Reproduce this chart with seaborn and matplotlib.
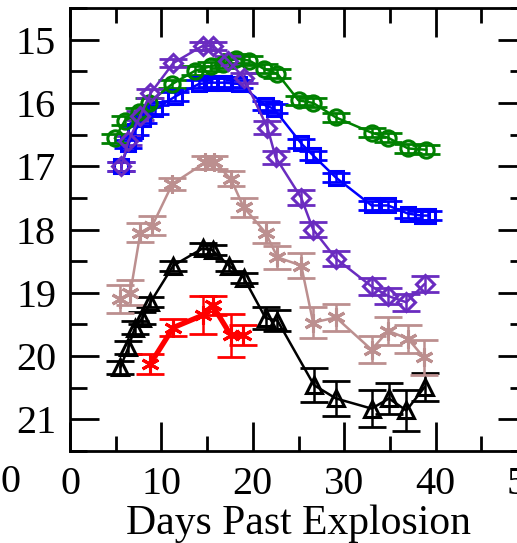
import numpy as np
import pandas as pd
import matplotlib
matplotlib.use("Agg")
import matplotlib.pyplot as plt
import seaborn as sns
from matplotlib.ticker import MultipleLocator

# ---------------- data ----------------
green_x = [4.9, 6.0, 7.6, 8.6, 11.2, 13.7, 15.4, 16.7, 18.2, 19.6, 21.2, 22.7, 25.0, 26.6, 29.1, 33.0, 34.8, 37.0, 39.0]
green_y = [16.56, 16.28, 16.15, 16.0, 15.7, 15.49, 15.42, 15.38, 15.3, 15.33, 15.46, 15.54, 15.96, 16.0, 16.23, 16.47, 16.55, 16.72, 16.74]
green_e = [0.07] * 19

blue_x = [5.6, 6.4, 7.1, 8.0, 9.3, 11.5, 14.1, 15.4, 16.8, 18.5, 21.4, 22.3, 25.3, 26.6, 29.1, 33.0, 34.8, 37.0, 38.5, 39.2]
blue_y = [17.0, 16.65, 16.44, 16.25, 16.1, 15.9, 15.7, 15.68, 15.68, 15.7, 16.04, 16.09, 16.64, 16.83, 17.18, 17.62, 17.62, 17.75, 17.78, 17.78]
blue_e = [0.07] * 20

purple_x = [5.6, 6.4, 7.7, 8.8, 11.3, 14.5, 15.7, 17.3, 19.0, 21.6, 22.5, 25.3, 26.6, 29.1, 33.0, 34.8, 36.8, 38.8]
purple_y = [17.0, 16.6, 16.2, 15.85, 15.37, 15.1, 15.1, 15.33, 15.6, 16.39, 16.86, 17.5, 18.0, 18.46, 18.9, 19.05, 19.15, 18.86]
purple_e = [0.07, 0.07, 0.07, 0.07, 0.07, 0.07, 0.07, 0.07, 0.08, 0.1, 0.1, 0.12, 0.12, 0.12, 0.13, 0.13, 0.13, 0.12]

tan_x = [5.5, 6.6, 7.7, 9.0, 11.2, 14.8, 15.8, 17.6, 19.0, 21.4, 22.7, 25.3, 26.6, 29.1, 33.0, 34.8, 37.0, 38.7]
tan_y = [19.1, 19.0, 18.05, 17.94, 17.28, 16.94, 16.94, 17.2, 17.65, 18.05, 18.44, 18.57, 19.47, 19.39, 19.9, 19.6, 19.73, 20.02]
tan_e = [0.22, 0.2, 0.15, 0.15, 0.1, 0.1, 0.1, 0.12, 0.15, 0.17, 0.18, 0.2, 0.24, 0.22, 0.21, 0.22, 0.22, 0.28]

black_x = [5.5, 6.4, 7.1, 7.9, 8.8, 11.3, 14.5, 15.6, 17.4, 19.0, 21.4, 22.7, 26.7, 29.1, 33.0, 34.9, 36.8, 38.8]
black_y = [20.18, 19.86, 19.55, 19.4, 19.15, 18.57, 18.3, 18.33, 18.57, 18.76, 19.4, 19.44, 20.46, 20.67, 20.83, 20.67, 20.86, 20.49]
black_e = [0.1, 0.1, 0.1, 0.1, 0.08, 0.08, 0.08, 0.08, 0.08, 0.08, 0.17, 0.17, 0.27, 0.28, 0.29, 0.25, 0.33, 0.22]

red_x = [8.8, 11.3, 14.6, 15.6, 17.6, 18.9]
red_y = [20.12, 19.55, 19.35, 19.2, 19.67, 19.67]
red_e = [0.16, 0.14, 0.3, 0.15, 0.34, 0.16]

xticks = [0, 10, 20, 30, 40, 50]
yticks = [15, 16, 17, 18, 19, 20, 21]

# ---------------- style ----------------
sns.set_theme(style="ticks")
plt.rcParams["font.family"] = ["Liberation Serif", "DejaVu Serif"]

fig = plt.figure(figsize=(5.17, 5.43), dpi=100)
ax = fig.add_axes([70 / 517, 92 / 543, 457 / 517, 443 / 543])

asterisk = (6, 2, 0)
series = [
    ("black", black_x, black_y, black_e, "black", "^", 1.8, 12),
    ("tan", tan_x, tan_y, tan_e, "#bc8f8f", asterisk, 1.8, 13),
    ("red", red_x, red_y, red_e, "#ff0000", asterisk, 3.8, 13),
    ("blue", blue_x, blue_y, blue_e, "#0000ff", "s", 1.8, 10),
    ("green", green_x, green_y, green_e, "#008000", "o", 1.8, 11),
    ("purple", purple_x, purple_y, purple_e, "#6a2cc0", "D", 1.8, 9),
]

for name, xs, ys, es, col, mk, lw, ms in series:
    df = pd.DataFrame({"day": xs, "mag": ys})
    ax.errorbar(xs, ys, yerr=es, fmt="none", ecolor=col, elinewidth=1.8,
                capsize=10, capthick=2.0, zorder=2)
    sns.lineplot(data=df, x="day", y="mag", ax=ax, color=col, lw=lw,
                 marker=mk, markersize=ms, markerfacecolor="none",
                 markeredgecolor=col, markeredgewidth=2.2,
                 sort=False, estimator=None, legend=False, zorder=3)

ax.set_xlim(0, 50)
ax.set_ylim(21.5, 14.5)
ax.set_xticks(xticks)
ax.set_yticks(yticks)
ax.xaxis.set_minor_locator(MultipleLocator(5))
ax.yaxis.set_minor_locator(MultipleLocator(0.5))
ax.tick_params(which="both", direction="in", top=True, right=True,
               width=2.0, color="black", labelsize=29, labelcolor="black")
ax.tick_params(axis="y", which="major", length=21, pad=10)
ax.tick_params(axis="y", which="minor", length=12)
ax.tick_params(axis="x", which="major", length=21, pad=11)
ax.tick_params(axis="x", which="minor", length=11)
for s in ax.spines.values():
    s.set_linewidth(2.0)
    s.set_color("black")
ax.set_xlabel("Days Past Explosion", fontsize=30, color="black", labelpad=1)
ax.set_ylabel("")

# fragment of neighbouring panel's tick label at the left edge
fig.text(0.0, 1 - 482 / 543, "0", fontsize=29, ha="left", va="center", color="black")

fig.savefig("out.png", dpi=100)
